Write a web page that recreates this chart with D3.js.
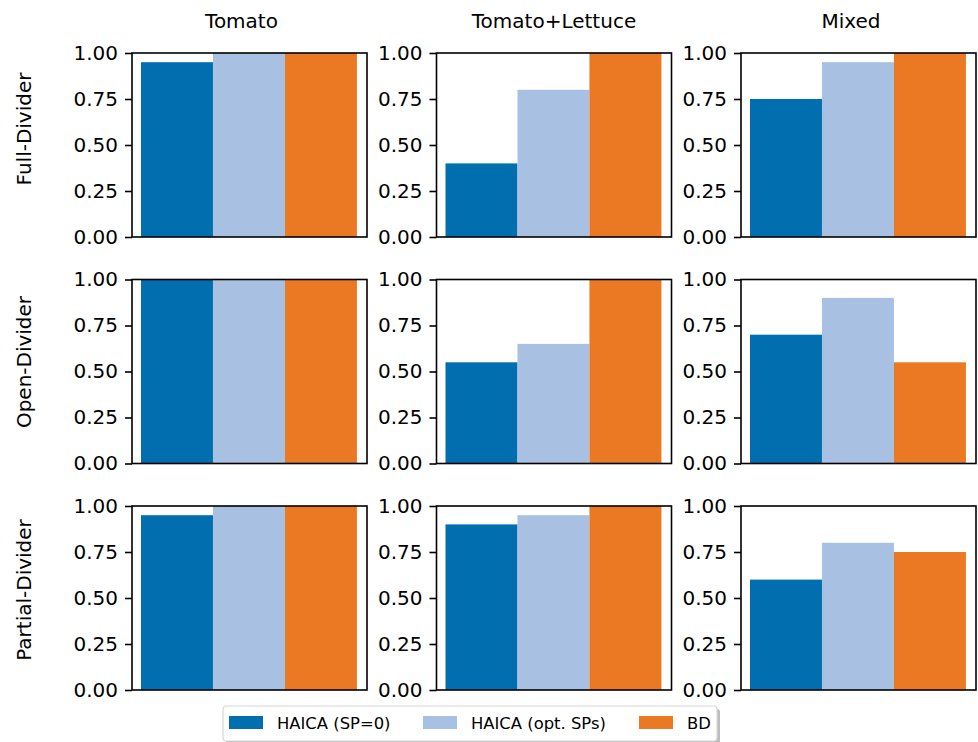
<!DOCTYPE html>
<html>
<head>
<meta charset="utf-8">
<script src="https://cdn.jsdelivr.net/npm/d3@7"></script>
<style>
  html, body { margin: 0; padding: 0; background: #fff; }
  svg { display: block; font-family: "DejaVu Sans", sans-serif; }
</style>
</head>
<body>
<svg id="chart" width="978" height="742"></svg>
<script>
// Scenario columns and divider rows
const layouts = ["Tomato", "Tomato+Lettuce", "Mixed"];
const dividers = ["Full-Divider", "Open-Divider", "Partial-Divider"];
const methods = ["HAICA (SP=0)", "HAICA (opt. SPs)", "BD"];
const methodColors = ["#006EAF", "#A8C0E1", "#EB7923"];
const yTicks = [0, 0.25, 0.5, 0.75, 1.0];

// Success rate per method, one array per divider row; each inner array follows layouts order
const haicaSp0 = [
  [0.95, 0.40, 0.75],
  [1.00, 0.55, 0.70],
  [0.95, 0.90, 0.60]
];
const haicaOptSp = [
  [1.00, 0.80, 0.95],
  [1.00, 0.65, 0.90],
  [1.00, 0.95, 0.80]
];
const bdValues = [
  [1.00, 1.00, 1.00],
  [1.00, 1.00, 0.55],
  [1.00, 1.00, 0.75]
];
const seriesByMethod = [haicaSp0, haicaOptSp, bdValues];

const svg = d3.select("#chart");
const fontSize = 20;
const legendFontSize = 16.4;

const panelW = 235, panelH = 184;
const colLeft = [132, 436.5, 741];
const rowTop = [53, 279.5, 506];
const titleX = [241.5, 554, 851];
const rowLabelY = [129, 362, 590];

// Bars sit at integer positions with width 1; padding on each side of the data range
const x = d3.scaleLinear().domain([-0.625, 2.64]).range([0, panelW]);
const y = d3.scaleLinear().domain([0, 1]).range([panelH, 0]);

dividers.forEach((div, r) => {
  layouts.forEach((lay, c) => {
    const g = svg.append("g").attr("transform", `translate(${colLeft[c]},${rowTop[r]})`);
    const vals = methods.map((m, k) => ({ k, v: seriesByMethod[k][r][c] }));

    g.selectAll("rect.bar").data(vals).enter().append("rect")
      .attr("class", "bar")
      .attr("x", d => x(d.k - 0.5))
      .attr("width", d => x(d.k + 0.5) - x(d.k - 0.5))
      .attr("y", d => y(d.v))
      .attr("height", d => y(0) - y(d.v))
      .attr("fill", d => methodColors[d.k]);

    // y axis
    const ax = g.append("g").call(
      d3.axisLeft(y).tickValues(yTicks).tickFormat(d3.format(".2f")).tickSize(7).tickPadding(7)
    );
    ax.select(".domain").remove();
    ax.selectAll(".tick line").attr("stroke", "#000").attr("stroke-width", 1.6);
    ax.selectAll(".tick text")
      .attr("font-family", "DejaVu Sans")
      .attr("font-size", fontSize)
      .attr("fill", "#000");

    // frame
    g.append("rect")
      .attr("x", 0).attr("y", 0)
      .attr("width", panelW).attr("height", panelH)
      .attr("fill", "none").attr("stroke", "#000").attr("stroke-width", 1.6);

    if (r === 0) {
      svg.append("text")
        .attr("x", titleX[c])
        .attr("y", 28)
        .attr("text-anchor", "middle")
        .attr("font-size", fontSize)
        .text(lay);
    }
  });

  svg.append("text")
    .attr("transform", `translate(31,${rowLabelY[r]}) rotate(-90)`)
    .attr("text-anchor", "middle")
    .attr("font-size", fontSize)
    .text(div);
});

// Legend with drop shadow
const leg = svg.append("g").attr("transform", "translate(223,706)");
const legW = 494, legH = 35;
leg.append("rect")
  .attr("x", 3).attr("y", 3).attr("width", legW).attr("height", legH)
  .attr("rx", 3).attr("fill", "#bdbdbd");
leg.append("rect")
  .attr("x", 0).attr("y", 0).attr("width", legW).attr("height", legH)
  .attr("rx", 3).attr("fill", "#fff").attr("stroke", "#d6d6d6").attr("stroke-width", 1.2);

const legItemX = [6, 200, 416];
methods.forEach((m, k) => {
  const it = leg.append("g").attr("transform", `translate(${legItemX[k]},0)`);
  it.append("rect").attr("x", 0).attr("y", 10).attr("width", 34).attr("height", 13)
    .attr("fill", methodColors[k]);
  it.append("text").attr("x", 48).attr("y", 23).attr("font-size", legendFontSize).text(m);
});
</script>
</body>
</html>
